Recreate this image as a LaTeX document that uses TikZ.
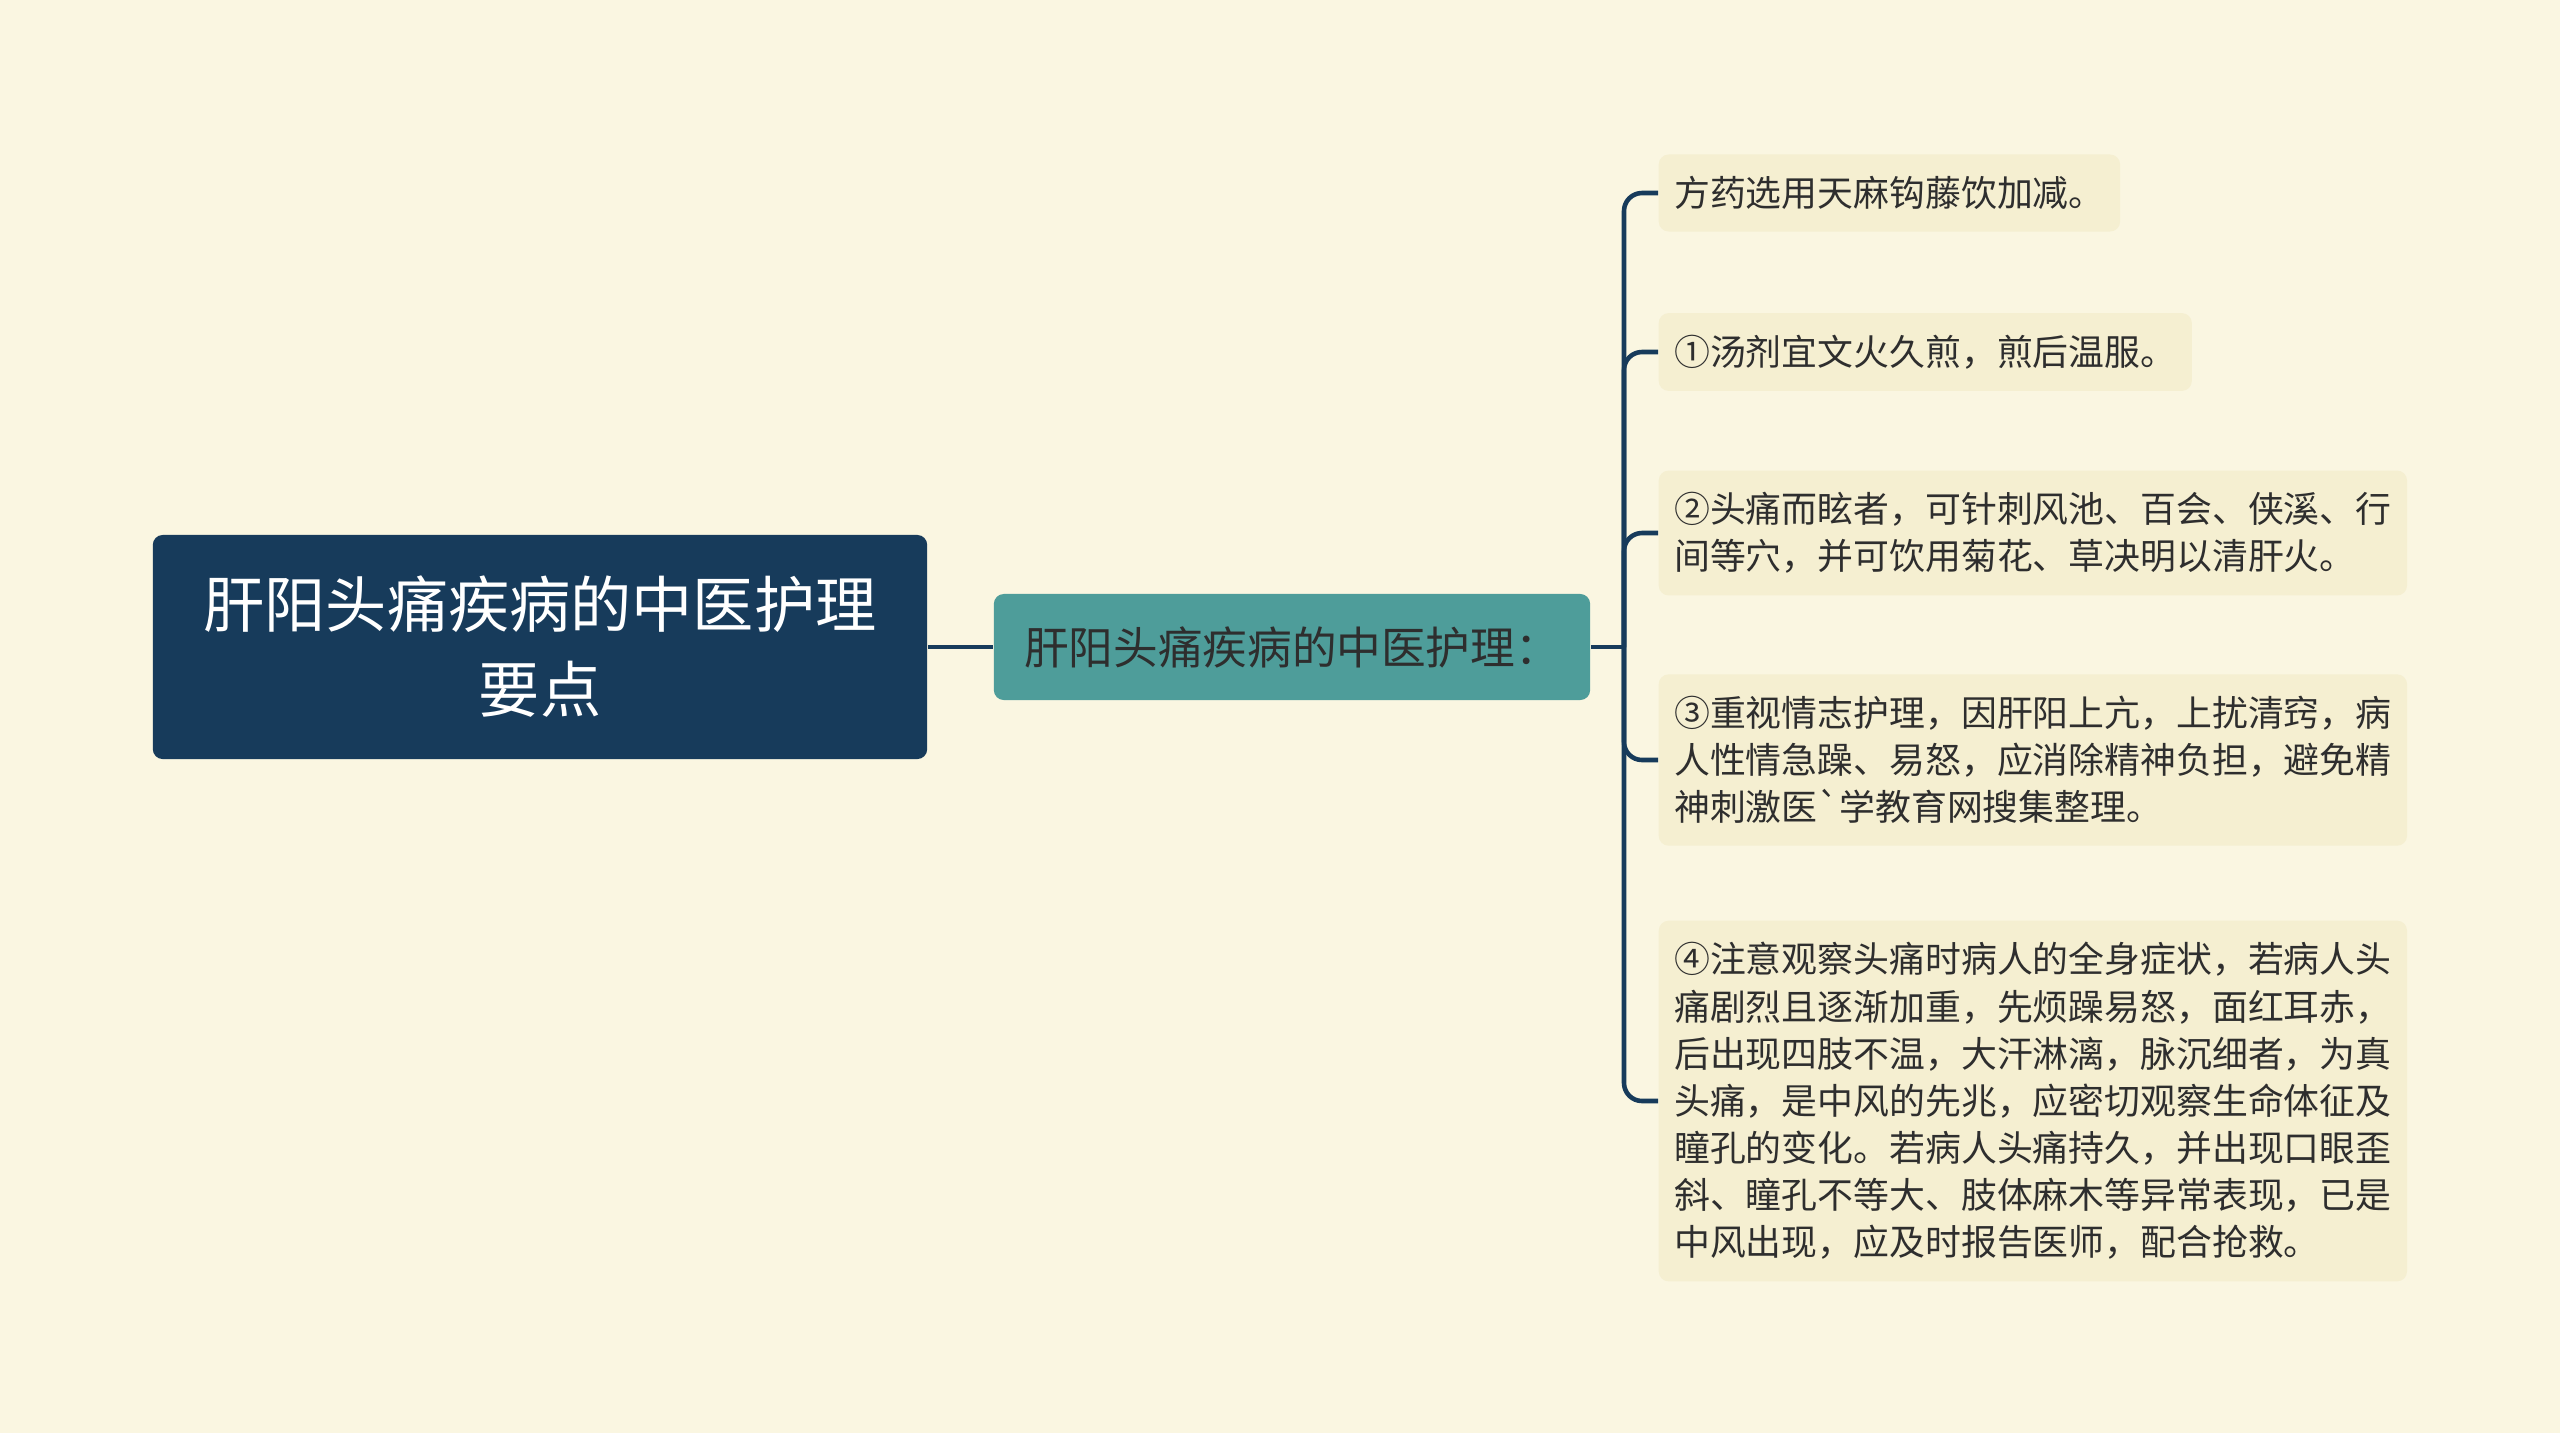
\documentclass[tikz,border=0pt]{standalone}
\usepackage{fontspec}
\newfontfamily\cjk{Noto Sans CJK SC}
\usepackage{tikz}

\definecolor{bgcream}{HTML}{FAF6E1}
\definecolor{rootblue}{HTML}{173B5B}
\definecolor{subteal}{HTML}{4E9D9A}
\definecolor{leaffill}{HTML}{F5EFD1}
\definecolor{inkgray}{HTML}{2E2E2E}

\begin{document}
\begin{tikzpicture}[x=0.01cm, y=-0.01cm,
    rootbox/.style={fill=rootblue, rounded corners=0.1cm, text=white, align=center,
        minimum width=7.74cm, minimum height=2.24cm, inner sep=0pt,
        font=\cjk\fontsize{17.4pt}{24.2pt}\selectfont},
    subbox/.style={fill=subteal, rounded corners=0.1cm, text=inkgray,
        minimum width=5.96cm, minimum height=1.06cm, inner sep=0pt,
        font=\cjk\fontsize{12.7pt}{16pt}\selectfont},
    leafbox/.style={fill=leaffill, rounded corners=0.1cm, text=inkgray, align=left,
        anchor=west, inner xsep=4.4pt, inner ysep=6.2pt,
        font=\cjk\fontsize{10.2pt}{13.4pt}\selectfont},
    branch/.style={draw=rootblue, line width=1.3pt, rounded corners=0.18cm}]
    % page
    \fill[bgcream] (0,0) rectangle (2560,1433);
    \useasboundingbox (0,0) rectangle (2560,1433);
    % main nodes
    \node[rootbox] (root) at (540,647) {肝阳头痛疾病的中医护理\\要点};
    \node[subbox] (sub) at (1292,647) {肝阳头痛疾病的中医护理：};
    \coordinate (trunk) at (1624,647);
    % leaves
    \node[leafbox] (l1) at (1658,193) {方药选用天麻钩藤饮加减。};
    \node[leafbox] (l2) at (1658,352) {①汤剂宜文火久煎，煎后温服。};
    \node[leafbox] (l3) at (1658,533) {②头痛而眩者，可针刺风池、百会、侠溪、行\\间等穴，并可饮用菊花、草决明以清肝火。};
    \node[leafbox] (l4) at (1658,760) {③重视情志护理，因肝阳上亢，上扰清窍，病\\人性情急躁、易怒，应消除精神负担，避免精\\神刺激医`学教育网搜集整理。};
    \node[leafbox] (l5) at (1658,1101) {④注意观察头痛时病人的全身症状，若病人头\\痛剧烈且逐渐加重，先烦躁易怒，面红耳赤，\\后出现四肢不温，大汗淋漓，脉沉细者，为真\\头痛，是中风的先兆，应密切观察生命体征及\\瞳孔的变化。若病人头痛持久，并出现口眼歪\\斜、瞳孔不等大、肢体麻木等异常表现，已是\\中风出现，应及时报告医师，配合抢救。};
    % connectors
    \draw[branch] (root.east) -- (sub.west);
    \draw[branch] (sub.east) -- (trunk);
    \foreach \n in {l1,l2,l3,l4,l5}
        \draw[branch] (trunk) |- (\n.west);
\end{tikzpicture}
\end{document}
